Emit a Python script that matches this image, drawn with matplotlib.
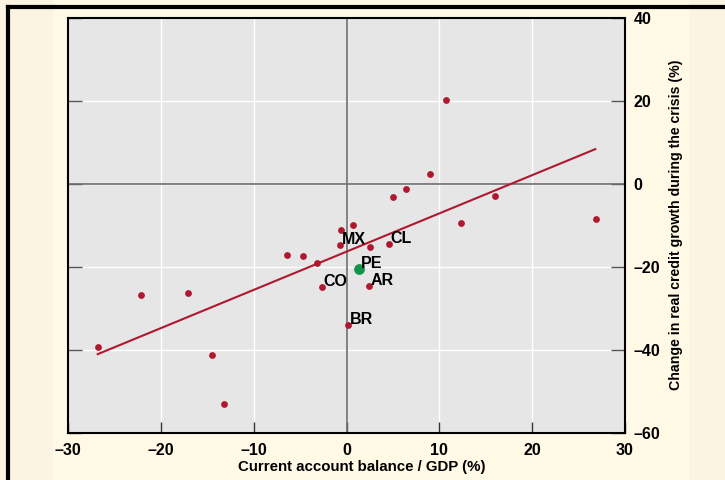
import matplotlib
matplotlib.use('agg')
import matplotlib.pyplot as plt
from matplotlib.patches import Rectangle
from matplotlib.lines import Line2D

plt.rcParams['font.family'] = ['Liberation Sans', 'DejaVu Sans']
plt.rcParams['font.weight'] = 'bold'

# current account balance / GDP (%) and change in real credit growth (%)
ca_gdp = [-26.8, -22.1, -17.1, -14.5, -13.2, -6.4, -4.7, -3.2, -0.6, 0.7,
          2.5, 5.0, 6.4, 10.7, 9.0, 12.3, 16.0, 26.9]
credit = [-39.3, -26.7, -26.3, -41.2, -53.0, -17.1, -17.3, -19.0, -11.1, -9.9,
          -15.2, -3.1, -1.2, 20.2, 2.4, -9.4, -2.9, -8.4]

# labelled Latin American countries
lat_names = ['MX', 'CL', 'CO', 'AR', 'BR']
lat_x = [-0.7, 4.6, -2.6, 2.4, 0.2]
lat_y = [-14.7, -14.5, -24.8, -24.6, -34.0]

pe_name = 'PE'
pe_x = 1.35
pe_y = -20.5

# fitted line end points
trend_x = [-26.8, 26.8]
trend_y = [-41.0, 8.4]

xticks = [-30, -20, -10, 0, 10, 20, 30]
yticks = [-60, -40, -20, 0, 20, 40]

red = '#B0182F'
green = '#12934A'

fig = plt.figure(figsize=(7.25, 4.8), dpi=100)
fig.patch.set_facecolor('#FBF4E2')
fig.patches.append(Rectangle((53 / 725, 0), (689 - 53) / 725, 1,
                             transform=fig.transFigure, facecolor='#FFF9E6',
                             edgecolor='none', zorder=-10))
fig.lines.append(Line2D([8 / 725, 8 / 725], [0, 1 - 7 / 480], transform=fig.transFigure,
                        color='black', lw=3))
fig.lines.append(Line2D([8 / 725, 1], [1 - 7 / 480, 1 - 7 / 480], transform=fig.transFigure,
                        color='black', lw=3))

ax = fig.add_axes([68 / 725, 1 - 433 / 480, (625 - 68) / 725, (433 - 18) / 480])
ax.set_facecolor('#E6E6E6')
ax.set_xlim(-30, 30)
ax.set_ylim(-60, 40)

for v in xticks[1:-1]:
    ax.axvline(v, color='white', lw=1, zorder=1)
for v in yticks[1:-1]:
    ax.axhline(v, color='white', lw=1, zorder=1)
ax.axvline(0, color='#6E6E6E', lw=1.2, zorder=2)
ax.axhline(0, color='#6E6E6E', lw=1.2, zorder=2)

ax.plot(trend_x, trend_y, color=red, lw=1.5, zorder=3)
ax.scatter(ca_gdp, credit, s=24, color=red, zorder=4, linewidths=0)
ax.scatter(lat_x, lat_y, s=24, color=red, zorder=4, linewidths=0)
ax.scatter([pe_x], [pe_y], s=60, color=green, zorder=5, linewidths=0)

for n, x, y in zip(lat_names + [pe_name], lat_x + [pe_x], lat_y + [pe_y]):
    ax.annotate(n, (x, y), xytext=(1, 1), textcoords='offset points',
                ha='left', va='baseline', fontsize=11.5, fontweight='bold', zorder=6)

for s in ax.spines.values():
    s.set_color('black')
    s.set_linewidth(1.5)

ax.set_xticks(xticks)
ax.set_xticklabels([str(v).replace('-', '\u2013') for v in xticks])
ax.set_yticks(yticks)
ax.set_yticklabels([str(v).replace('-', '\u2013') for v in yticks])
ax.tick_params(axis='x', direction='in', length=8, width=1, pad=7, labelsize=11.5, color='#333333')
ax.tick_params(axis='y', direction='in', length=10, width=1, pad=6, labelsize=11.5,
               left=True, right=True, labelleft=False, labelright=True, color='#555555')
for lab in ax.get_xticklabels() + ax.get_yticklabels():
    lab.set_fontweight('bold')

fig.text(362 / 725, 1 - 467 / 480, 'Current account balance / GDP (%)', ha='center', va='center',
         fontsize=10.8, fontweight='bold')
fig.text(676 / 725, 1 - 225 / 480, 'Change in real credit growth during the crisis (%)',
         ha='center', va='center', rotation=90, fontsize=10.2, fontweight='bold')

plt.savefig('out.png', dpi=100, facecolor=fig.get_facecolor())
